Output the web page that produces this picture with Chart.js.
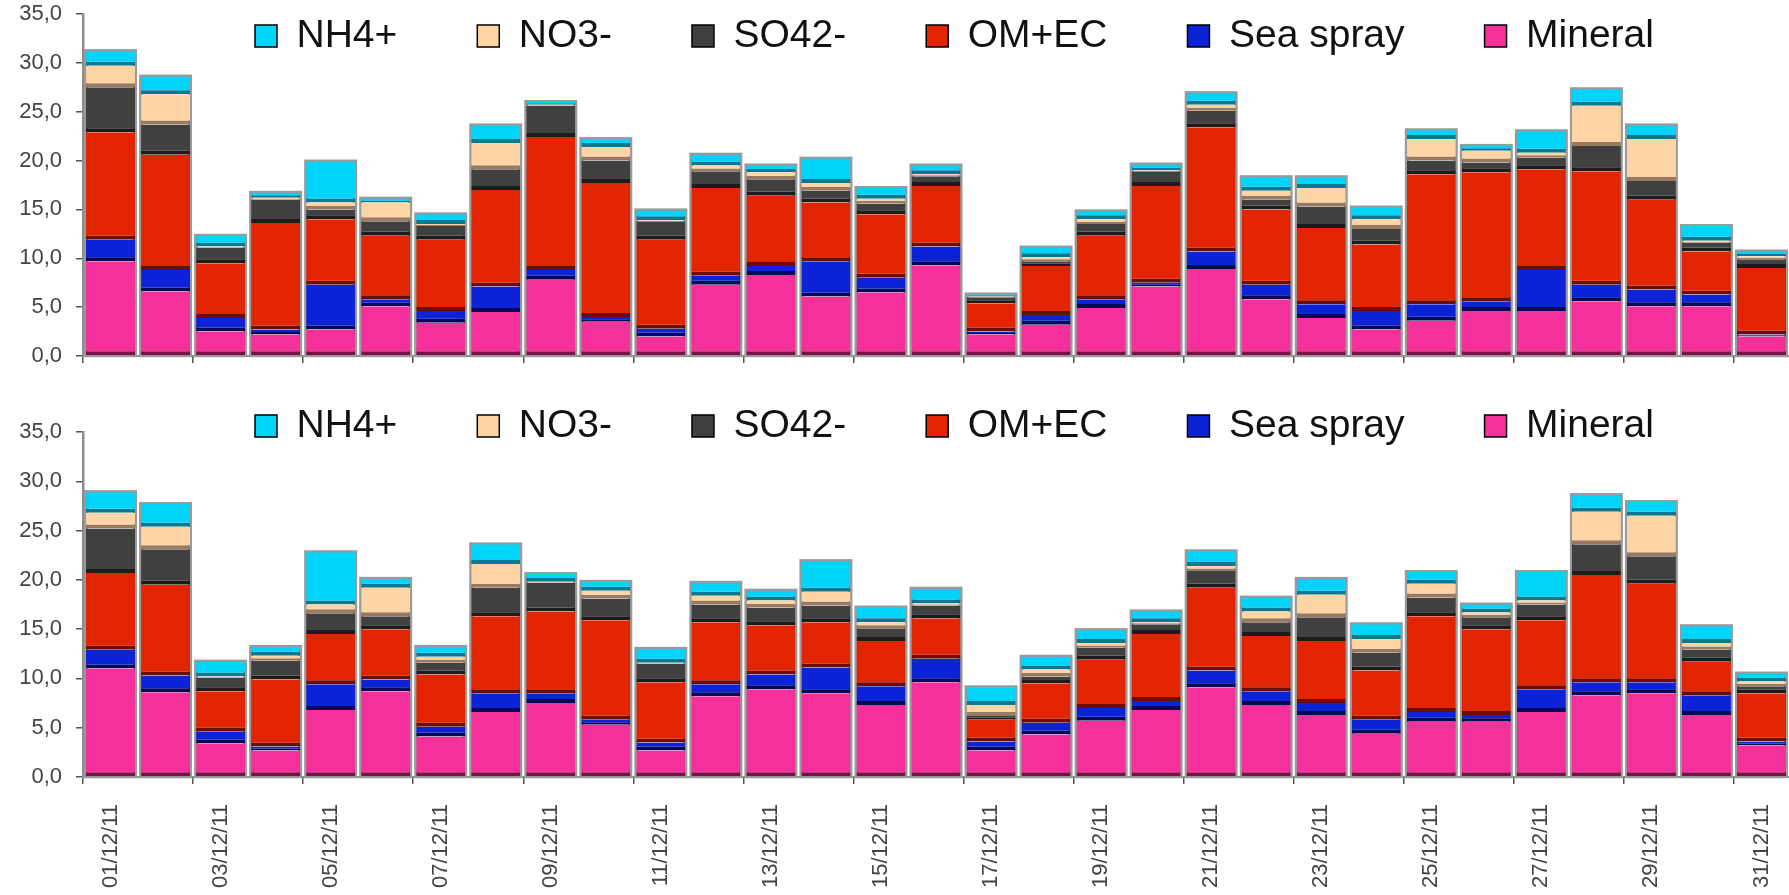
<!DOCTYPE html>
<html>
<head>
<meta charset="utf-8">
<title>Daily PM composition, December 2011</title>
<script src="https://cdn.jsdelivr.net/npm/chart.js@4.4.1/dist/chart.umd.min.js"></script>
<style>
    html, body { margin: 0; padding: 0; background: #fff; overflow: hidden; }
    .panel { position: absolute; left: 0; width: 1789px; }
    #panelTop { top: 0; height: 390px; }
    #panelBottom { top: 390px; height: 505px; }
</style>
</head>
<body>
<div class="panel" id="panelTop"><canvas id="chartTop"></canvas></div>
<div class="panel" id="panelBottom"><canvas id="chartBottom"></canvas></div>
<script>
// ── Data ─────────────────────────────────────────────────────
const days = [
    "01/12/11", "02/12/11", "03/12/11", "04/12/11", "05/12/11", "06/12/11", "07/12/11", "08/12/11",
    "09/12/11", "10/12/11", "11/12/11", "12/12/11", "13/12/11", "14/12/11", "15/12/11", "16/12/11",
    "17/12/11", "18/12/11", "19/12/11", "20/12/11", "21/12/11", "22/12/11", "23/12/11", "24/12/11",
    "25/12/11", "26/12/11", "27/12/11", "28/12/11", "29/12/11", "30/12/11", "31/12/11"
];

// stack order, bottom to top
const seriesNames = ["Mineral", "Sea spray", "OM+EC", "SO42-", "NO3-", "NH4+"];

// upper panel
const mineralTop = [9.7, 6.6, 2.5, 2.2, 2.7, 5.1, 3.4, 4.5, 7.8, 3.5, 2.0, 7.3, 8.3, 6.1, 6.5, 9.3, 2.2, 3.2, 4.9, 7.1, 8.9, 5.8, 3.9, 2.7, 3.6, 4.6, 4.6, 5.6, 5.1, 5.1, 2.0];
const seaTop     = [2.2, 2.2, 1.4, 0.5, 4.6, 0.7, 1.2, 2.6, 1.0, 0.5, 0.8, 0.9, 0.9, 3.6, 1.5, 1.9, 0.3, 1.0, 0.9, 0.4, 1.8, 1.5, 1.4, 1.9, 1.7, 1.0, 4.2, 1.7, 1.7, 1.2, 0.2];
const omecTop    = [11.0, 11.8, 5.6, 10.9, 6.7, 6.5, 7.3, 9.9, 13.6, 13.7, 9.1, 9.0, 7.2, 6.0, 6.5, 6.2, 2.9, 5.0, 6.5, 9.9, 12.7, 7.7, 7.8, 6.8, 13.3, 13.2, 10.3, 11.6, 9.2, 4.4, 6.8];
const so4Top     = [4.6, 3.1, 1.6, 2.4, 1.0, 1.5, 1.4, 2.1, 3.2, 2.3, 1.9, 1.7, 1.7, 1.2, 1.1, 1.0, 0.6, 0.5, 1.2, 1.5, 1.7, 1.0, 2.2, 1.6, 1.4, 1.0, 1.2, 2.6, 1.9, 0.9, 0.9];
const no3Top     = [2.2, 3.1, 0.1, 0.2, 0.7, 1.9, 0.2, 2.7, 0.1, 1.4, 0.1, 0.6, 0.7, 0.8, 0.5, 0.2, 0.1, 0.4, 0.5, 0.1, 0.6, 0.9, 1.9, 1.0, 2.2, 1.2, 0.5, 4.1, 4.3, 0.2, 0.3];
const nh4Top     = [1.5, 1.8, 1.1, 0.5, 4.2, 0.4, 1.0, 1.8, 0.3, 0.8, 1.0, 1.1, 0.7, 2.5, 1.1, 0.9, 0.2, 1.0, 0.8, 0.6, 1.2, 1.4, 1.1, 1.2, 0.9, 0.5, 2.2, 1.7, 1.4, 1.5, 0.5];

// lower panel
const mineralBottom = [11.0, 8.6, 3.4, 2.7, 6.8, 8.7, 4.1, 6.6, 7.5, 5.3, 2.7, 8.2, 8.9, 8.5, 7.3, 9.6, 2.7, 4.3, 5.7, 6.8, 9.1, 7.3, 6.3, 4.4, 5.6, 5.6, 6.6, 8.3, 8.5, 6.3, 3.2];
const seaBottom     = [1.9, 1.7, 1.2, 0.4, 2.6, 1.2, 1.0, 1.9, 1.0, 0.5, 0.8, 1.2, 1.5, 2.6, 1.9, 2.4, 0.9, 1.2, 1.3, 0.9, 1.7, 1.4, 1.2, 1.4, 1.0, 0.7, 2.3, 1.3, 1.1, 2.0, 0.4];
const omecBottom    = [7.8, 9.2, 4.1, 6.8, 5.1, 5.1, 5.3, 7.8, 8.3, 10.1, 6.1, 6.3, 5.0, 4.6, 4.6, 4.1, 2.2, 4.0, 4.9, 6.8, 8.4, 5.6, 6.3, 5.0, 9.7, 8.7, 7.0, 10.9, 10.0, 3.4, 4.9];
const so4Bottom     = [4.5, 3.6, 1.4, 1.9, 2.1, 1.3, 1.2, 2.9, 2.9, 2.2, 1.9, 1.8, 1.8, 1.7, 1.3, 1.3, 0.4, 0.7, 1.2, 1.0, 1.7, 1.4, 2.4, 1.8, 1.9, 1.2, 1.6, 3.1, 2.8, 1.2, 0.7];
const no3Bottom     = [1.6, 2.3, 0.1, 0.5, 0.9, 2.9, 0.6, 2.4, 0.1, 0.8, 0.1, 0.9, 0.7, 1.4, 0.6, 0.2, 1.1, 0.7, 0.5, 0.2, 0.5, 1.1, 2.3, 1.4, 1.4, 0.5, 0.4, 3.3, 4.1, 0.7, 0.5];
const nh4Bottom     = [2.1, 2.3, 1.5, 0.9, 5.3, 0.9, 1.0, 2.0, 0.8, 0.9, 1.4, 1.3, 1.0, 3.1, 1.5, 1.5, 1.8, 1.3, 1.3, 1.1, 1.5, 1.4, 1.6, 1.5, 1.2, 0.8, 2.9, 1.7, 1.4, 1.7, 0.8];

// ── Styles ───────────────────────────────────────────────────
const fillColors = ["#f5309a", "#0b22d6", "#e32400", "#404040", "#ffd5a6", "#00d4fb"];
const edgeColors = ["#7a1048", "#020a55", "#6e0c00", "#1c1c1c", "#9a7a5e", "#0a7890"];

Chart.defaults.font.family = "'Liberation Sans', Arial, sans-serif";
Chart.defaults.color = "#444";

// gray frame around every stacked column
const stackOutline = {
    id: "stackOutline",
    beforeDatasetsDraw(chart) {
        const n = chart.data.datasets.length;
        const bottom = chart.getDatasetMeta(0).data;
        const top = chart.getDatasetMeta(n - 1).data;
        const ctx = chart.ctx;
        ctx.save();
        ctx.strokeStyle = "#9a9a9a";
        ctx.lineWidth = 4;
        bottom.forEach((bar, i) => {
            const y = top[i].y;
            ctx.strokeRect(bar.x - bar.width / 2, y, bar.width, bar.base - y);
        });
        ctx.restore();
    }
};

// legend drawn over the plot instead of taking room above it
const legendInside = {
    id: "legendInside",
    beforeLayout(chart) {
        const lg = chart.legend;
        if (!lg || lg._inside) return;
        const fit = lg.fit;
        lg.fit = function () { fit.call(this); this.height = 0; };
        lg._inside = true;
    },
    afterLayout(chart, args, opts) {
        const lg = chart.legend;
        const pad = lg.options.labels.padding;
        const size = lg.options.labels.font.size;
        const start = (lg.left + pad + lg.right - lg.lineWidths[0]) / 2;
        const dx = opts.x - start;
        lg.left += dx;
        lg.right += dx;
        lg.top = opts.y - pad - size / 2;
        lg.bottom = opts.y + size;
    }
};

function makeDatasets(values) {
    return seriesNames.map((name, k) => ({
        label: name,
        data: values[k],
        backgroundColor: fillColors[k],
        borderColor: edgeColors[k],
        borderWidth: { top: 0, right: 0, bottom: 4, left: 0 },
        borderSkipped: false,
        barPercentage: 0.89,
        categoryPercentage: 1
    }));
}

function makeChart(canvasId, values, showDates, padding, legendY) {
    return new Chart(document.getElementById(canvasId), {
        type: "bar",
        data: { labels: days, datasets: makeDatasets(values) },
        plugins: [stackOutline, legendInside],
        options: {
            responsive: true,
            maintainAspectRatio: false,
            animation: false,
            events: [],
            layout: { padding },
            plugins: {
                tooltip: { enabled: false },
                legendInside: { x: 255, y: legendY },
                legend: {
                    position: "top",
                    reverse: true,
                    labels: {
                        boxWidth: 22,
                        boxHeight: 22,
                        padding: 80,
                        color: "#111",
                        font: { size: 39 },
                        generateLabels(chart) {
                            const items = Chart.defaults.plugins.legend.labels.generateLabels(chart);
                            items.forEach(it => { it.strokeStyle = "#000"; it.lineWidth = 1.5; });
                            return items;
                        }
                    }
                }
            },
            scales: {
                x: {
                    stacked: true,
                    offset: true,
                    afterFit(scale) {
                        scale.paddingLeft = 0;
                        scale.paddingRight = 0;
                        scale.height = showDates ? 113 : 7;
                    },
                    grid: {
                        offset: true,
                        drawOnChartArea: false,
                        tickLength: 7,
                        lineWidth: 1.5,
                        color: ctx => ctx.index % 2 === 0 ? "#555" : "rgba(0,0,0,0)"
                    },
                    border: { color: "#8c8c8c", width: 2 },
                    ticks: {
                        display: showDates,
                        autoSkip: false,
                        minRotation: 90,
                        maxRotation: 90,
                        padding: 20,
                        font: { size: 22 },
                        callback: (v, i) => i % 2 === 0 ? days[i] : ""
                    }
                },
                y: {
                    stacked: true,
                    min: 0,
                    max: 35,
                    afterFit(scale) {
                        scale.width = 63;
                        scale.paddingTop = 0;
                        scale.paddingBottom = 0;
                    },
                    grid: { drawOnChartArea: false, tickLength: 7, lineWidth: 1.5, color: "#555" },
                    border: { color: "#8c8c8c", width: 2.5 },
                    ticks: {
                        stepSize: 5,
                        padding: 14,
                        font: { size: 22 },
                        callback: v => v.toFixed(1).replace(".", ",")
                    }
                }
            }
        }
    });
}

// ── Init ──────────────────────────────────────────────────────
makeChart("chartTop",
    [mineralTop, seaTop, omecTop, so4Top, no3Top, nh4Top],
    false, { top: 14, left: 20, right: 0, bottom: 27 }, 36);

makeChart("chartBottom",
    [mineralBottom, seaBottom, omecBottom, so4Bottom, no3Bottom, nh4Bottom],
    true, { top: 42, left: 20, right: 0, bottom: 5 }, 36);
</script>
</body>
</html>
